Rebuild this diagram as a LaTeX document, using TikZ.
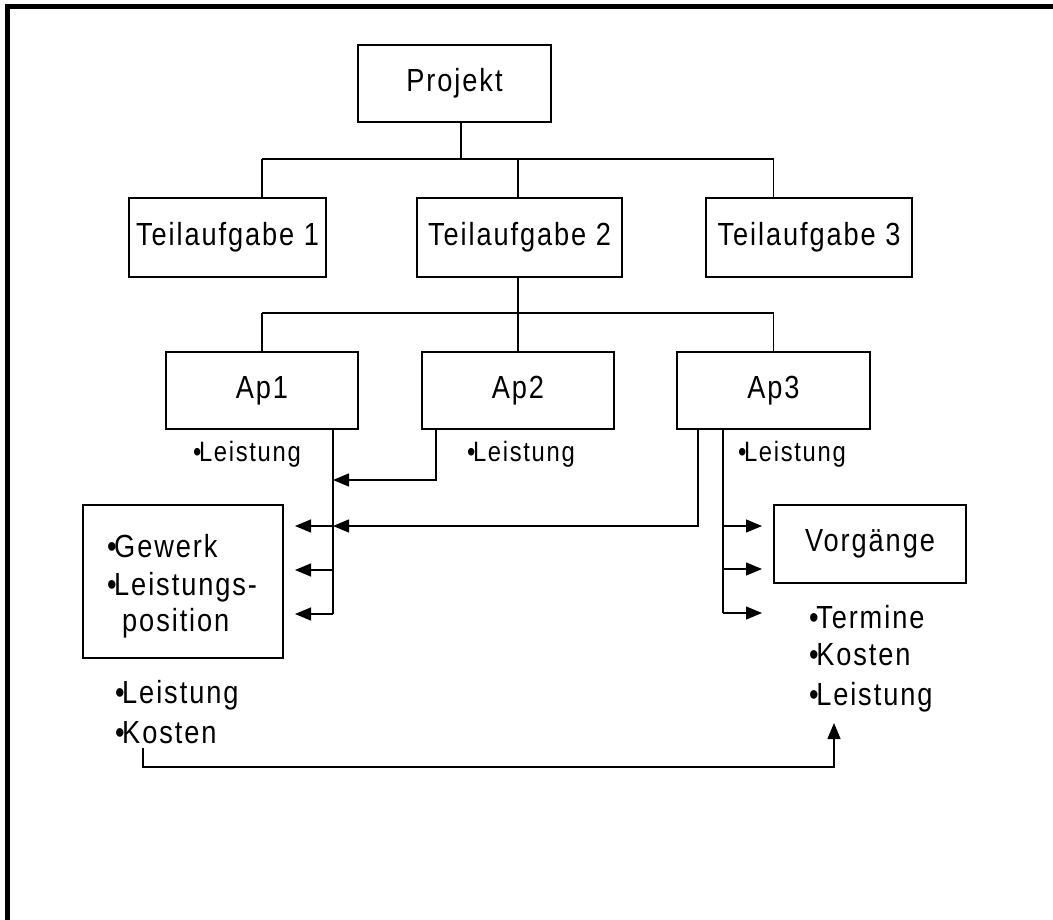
\documentclass[tikz,border=0pt]{standalone}
\usepackage{fontspec}
\setmainfont{Liberation Sans}[LetterSpace=6,FakeStretch=0.85]
\usetikzlibrary{arrows.meta}
\newcommand\bul{\textbullet\kern-2.5pt}
\begin{document}
\begin{tikzpicture}[x=1pt,y=-1pt,
  box/.style={draw,line width=2.5pt,inner sep=0pt,font=\fontsize{32}{38}\selectfont},
  conn/.style={line width=1.3pt},
  arr/.style={conn,-{Triangle[length=16pt,width=13pt]}},
  lbl/.style={inner sep=0pt,anchor=base west,font=\fontsize{32}{38}\selectfont},
  slbl/.style={lbl,font=\fontsize{28}{32}\selectfont}]
\useasboundingbox (0,0) rectangle (1053,920);
% frame
\draw[line width=5pt] (1053,6.5) -- (7.5,6.5) -- (7.5,920);
% boxes
\node[box,minimum width=193pt,minimum height=77pt] (projekt) at (454.5,83.5) {\raisebox{-2pt}{Projekt}};
\node[box,minimum width=197pt,minimum height=79pt] (t1) at (227.5,237.5) {Teilaufgabe 1};
\node[box,minimum width=205pt,minimum height=79pt] (t2) at (519.5,237.5) {Teilaufgabe 2};
\node[box,minimum width=206pt,minimum height=79pt] (t3) at (809,237.5) {Teilaufgabe 3};
\node[box,minimum width=192pt,minimum height=77pt] (ap1) at (262,390.5) {Ap1};
\node[box,minimum width=192pt,minimum height=77pt] (ap2) at (518,390.5) {Ap2};
\node[box,minimum width=193pt,minimum height=77pt] (ap3) at (773.5,390.5) {Ap3};
\node[box,minimum width=200pt,minimum height=153pt] (gewerk) at (183,581.5) {};
\node[box,minimum width=192pt,minimum height=78pt] (vorg) at (870,544) {Vorgänge};
% labels
\node[slbl] (lap1) at (193,461) {\bul Leistung};
\node[slbl] (lap2) at (467,461) {\bul Leistung};
\node[slbl] (lap3) at (738,461) {\bul Leistung};
\node[lbl] (gw1) at (107,557) {\bul Gewerk};
\node[lbl] (gw2) at (107,595) {\bul Leistungs-};
\node[lbl] (gw3) at (122,631) {position};
\node[lbl] (ll1) at (115,703) {\bul Leistung};
\node[lbl] (ll2) at (115,743) {\bul Kosten};
\node[lbl] (rl1) at (809,628) {\bul Termine};
\node[lbl] (rl2) at (809,665) {\bul Kosten};
\node[lbl] (rl3) at (809,705) {\bul Leistung};
% coordinates
\coordinate (bus1) at (461,159);
\coordinate (bus2) at (518,313);
\coordinate (v1) at (333,614);
\coordinate (g1) at (295,526);
\coordinate (g2) at (295,570);
\coordinate (g3) at (295,614);
\coordinate (a2) at (436,480);
\coordinate (a3) at (698,526);
\coordinate (v3) at (723,613);
\coordinate (r1) at (762,526);
\coordinate (r2) at (762,569);
\coordinate (r3) at (762,613);
\coordinate (k0) at (143,748);
\coordinate (c1) at (143,767);
\coordinate (c2) at (834,767);
\coordinate (tip) at (834,723);
% tree connectors
\draw[conn] (bus1 |- projekt.south) -- (bus1);
\draw[conn] (ap1 |- bus1) -- (ap3 |- bus1);
\draw[conn] (ap1 |- bus1) -- (ap1 |- t1.north);
\draw[conn] (ap2 |- bus1) -- (ap2 |- t2.north);
\draw[conn] (ap3 |- bus1) -- (ap3 |- t3.north);
\draw[conn] (bus2 |- t2.south) -- (bus2);
\draw[conn] (ap1 |- bus2) -- (ap3 |- bus2);
\draw[conn] (ap1 |- bus2) -- (ap1.north);
\draw[conn] (ap2 |- bus2) -- (ap2.north);
\draw[conn] (ap3 |- bus2) -- (ap3.north);
% left side
\draw[conn] (v1 |- ap1.south) -- (v1);
\draw[arr] (v1 |- g1) -- (g1);
\draw[arr] (v1 |- g2) -- (g2);
\draw[arr] (v1) -- (g3);
\draw[arr] (a2 |- ap2.south) -- (a2) -- (v1 |- a2);
\draw[arr] (a3 |- ap3.south) -- (a3) -- (v1 |- a3);
% right side
\draw[conn] (v3 |- ap3.south) -- (v3);
\draw[arr] (v3 |- r1) -- (r1);
\draw[arr] (v3 |- r2) -- (r2);
\draw[arr] (v3) -- (r3);
% bottom
\draw[arr] (k0) -- (c1) -- (c2) -- (tip);
\end{tikzpicture}
\end{document}
